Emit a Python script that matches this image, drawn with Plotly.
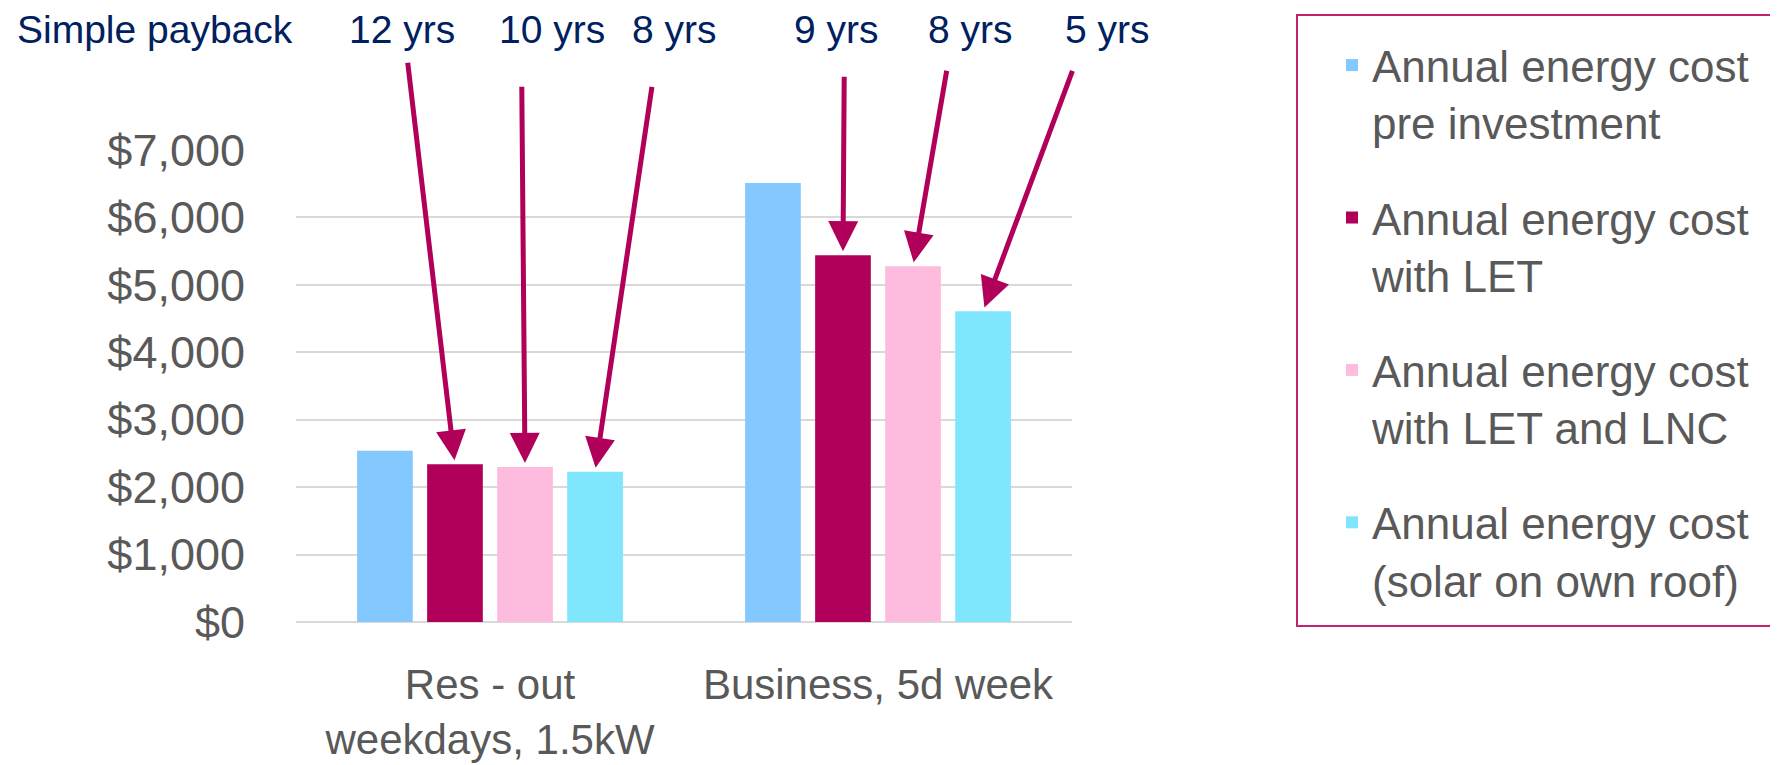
import plotly.graph_objects as go

# ---------------- data ----------------
categories = ["Res - out<br>weekdays, 1.5kW", "Business, 5d week"]
series_names = [
    "Annual energy cost<br>pre investment",
    "Annual energy cost<br>with LET",
    "Annual energy cost<br>with LET and LNC",
    "Annual energy cost<br>(solar on own roof)",
]
pre_investment = [2540, 6510]
with_let = [2340, 5440]
with_let_lnc = [2300, 5275]
solar_own_roof = [2230, 4610]
series_values = [pre_investment, with_let, with_let_lnc, solar_own_roof]
series_colors = ["#83C9FF", "#B0005A", "#FDBBDD", "#7FE6FE"]

payback_title = "Simple payback"
payback_labels = ["12 yrs", "10 yrs", "8 yrs", "9 yrs", "8 yrs", "5 yrs"]
# bar each payback arrow points at: (category index, series index)
payback_targets = [(0, 1), (0, 2), (0, 3), (1, 1), (1, 2), (1, 3)]

y_ticks = [0, 1000, 2000, 3000, 4000, 5000, 6000, 7000]
y_tick_text = ["$" + f"{v:,}" for v in y_ticks]

# ---------------- layout constants ----------------
# page body has an 8px default margin, so the figure is 8px smaller
OFF = 8
W, H = 1778 - OFF, 765 - OFF
M_L, M_T = 296 - OFF, 150 - OFF
M_R = W - (1072 - OFF)
M_B = H - (622 - OFF)
PW, PH = W - M_L - M_R, H - M_T - M_B
BARGAP = 0.278
BARGROUPGAP = 0.205
FONT = "Liberation Sans, Arial, sans-serif"
GREY = "#595959"
NAVY = "#002060"
ARROW = "#B0005A"


def px_x(px):  # screen px -> paper x
    return (px - OFF - M_L) / PW


def px_y(py):  # screen px -> paper y
    return (H - M_B - (py - OFF)) / PH


# label positions (paper x), arrow tail positions (category x, value y)
label_x_paper = [0.1366, 0.3299, 0.4884, 0.6965, 0.8686, 1.0458]
label_y_paper = 1.256
tail_x = [-0.2125, 0.0819, 0.4179, 0.9129, 1.1777, 1.5026]
tail_y = [8316, 7960, 7960, 8108, 8197, 8197]

fig = go.Figure()
for i, (name, vals, col) in enumerate(zip(series_names, series_values, series_colors)):
    fig.add_trace(go.Bar(
        x=categories, y=vals, name=name,
        marker=dict(color=col, line=dict(width=0)),
        legendgroup=f"g{i}",
    ))

n_series = len(series_values)
group_w = 1 - BARGAP
slot = group_w / n_series

annotations = []
annotations.append(dict(
    text=payback_title, xref="paper", yref="paper",
    x=px_x(15), y=label_y_paper,
    xanchor="left", yanchor="middle", showarrow=False,
    font=dict(family=FONT, size=39, color=NAVY),
))
for k, (lab, (ci, si)) in enumerate(zip(payback_labels, payback_targets)):
    annotations.append(dict(
        text=lab, xref="paper", yref="paper",
        x=label_x_paper[k], y=label_y_paper,
        xanchor="center", yanchor="middle", showarrow=False,
        font=dict(family=FONT, size=39, color=NAVY),
    ))
    head_x = ci - group_w / 2 + (si + 0.5) * slot
    head_y = series_values[si][ci]
    annotations.append(dict(
        text="", xref="x", yref="y", axref="x", ayref="y",
        x=head_x, y=head_y, ax=tail_x[k], ay=tail_y[k],
        showarrow=True, arrowhead=2, arrowsize=1.2, arrowwidth=5,
        arrowcolor=ARROW, standoff=4,
    ))

fig.update_layout(
    width=W, height=H,
    margin=dict(l=M_L, r=M_R, t=M_T, b=M_B, autoexpand=False),
    paper_bgcolor="white", plot_bgcolor="white",
    barmode="group", bargap=BARGAP, bargroupgap=BARGROUPGAP,
    font=dict(family=FONT, color=GREY),
    showlegend=True,
    legend=dict(
        xref="container", yref="container",
        x=(1332 - OFF) / W, y=1 - (30 - OFF) / H, xanchor="left", yanchor="top",
        font=dict(family=FONT, size=44, color=GREY),
        traceorder="grouped", tracegroupgap=35, valign="top",
        bgcolor="rgba(0,0,0,0)", borderwidth=0, maxheight=740,
    ),
    annotations=annotations,
    shapes=[dict(
        type="rect", xref="paper", yref="paper",
        x0=px_x(1297), x1=px_x(1776),
        y0=px_y(626), y1=px_y(15),
        line=dict(color="#C0246E", width=2), fillcolor="rgba(0,0,0,0)", layer="above",
    )],
)
fig.update_xaxes(
    type="category", range=[-0.5, 1.5], showgrid=False, ticks="",
    showline=False, zeroline=False,
    tickfont=dict(family=FONT, size=42, color=GREY), ticklabelstandoff=34,
)
fig.update_yaxes(
    range=[0, 7000], tickmode="array", tickvals=y_ticks, ticktext=y_tick_text,
    showgrid=True, gridcolor="#D9D9D9", gridwidth=2,
    zeroline=True, zerolinecolor="#D9D9D9", zerolinewidth=2,
    showline=False, ticks="",
    tickfont=dict(family=FONT, size=45, color=GREY), ticklabelstandoff=50,
)

fig.write_html("out.html")
